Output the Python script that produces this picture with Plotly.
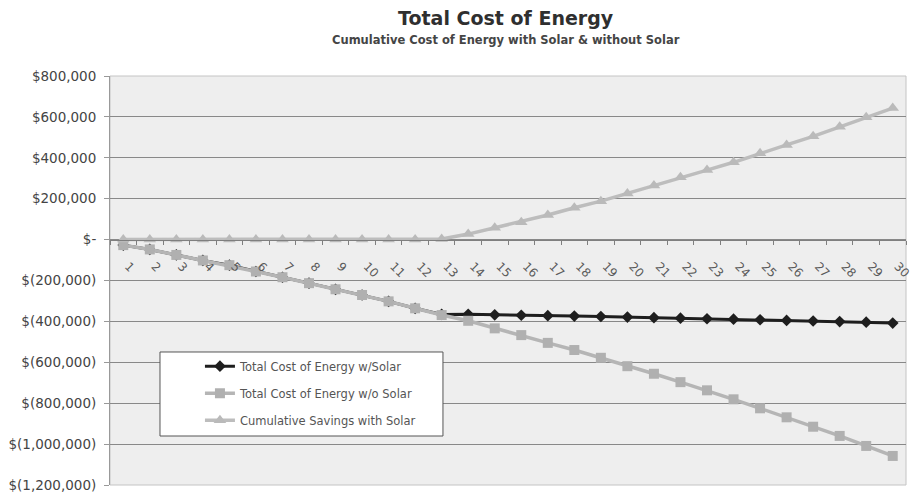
import plotly.graph_objects as go

# Year labels along the category axis
years = [str(i) for i in range(1, 31)]

# Cumulative cost of energy with solar (USD)
cost_with_solar = [
    -27000, -48000, -75000, -102000, -125000, -156000, -184000, -213000,
    -243000, -271000, -302000, -336000, -366000, -365000, -368000, -370000,
    -372000, -374000, -376000, -379000, -382000, -384000, -387000, -389000,
    -392000, -395000, -398000, -401000, -404000, -408000,
]

# Cumulative cost of energy without solar (USD)
cost_without_solar = [
    -27000, -48000, -75000, -102000, -125000, -156000, -184000, -213000,
    -243000, -271000, -302000, -336000, -369000, -397000, -434000, -467000,
    -505000, -540000, -578000, -619000, -656000, -697000, -737000, -781000,
    -825000, -869000, -915000, -960000, -1009000, -1058000,
]

# Cumulative savings with solar (USD)
cumulative_savings = [
    0, 0, 0, 0, 0, 0, 0, 0, 0, 0, 0, 0, 3000, 27000, 58000, 85000,
    120000, 156000, 188000, 226000, 265000, 305000, 340000, 378000,
    422000, 463000, 505000, 552000, 598000, 643000,
]

# Value axis ticks in accounting format
y_ticks = [800000, 600000, 400000, 200000, 0, -200000, -400000,
           -600000, -800000, -1000000, -1200000]
y_tick_labels = ["$800,000", "$600,000", "$400,000", "$200,000", "$-",
                 "$(200,000)", "$(400,000)", "$(600,000)", "$(800,000)",
                 "$(1,000,000)", "$(1,200,000)"]

series_names = ["Total Cost of Energy w/Solar",
                "Total Cost of Energy w/o Solar",
                "Cumulative Savings with Solar"]

FONT = "DejaVu Sans, Liberation Sans, Arial, sans-serif"

fig = go.Figure()

fig.add_trace(go.Scatter(
    x=years, y=cost_with_solar, name=series_names[0], legendgroup="a",
    mode="lines+markers",
    line=dict(color="#1e1e1e", width=3),
    marker=dict(symbol="diamond", size=9, color="#1e1e1e"),
))
fig.add_trace(go.Scatter(
    x=years, y=cost_without_solar, name=series_names[1], legendgroup="b",
    mode="lines+markers",
    line=dict(color="#b5b5b5", width=3.5),
    marker=dict(symbol="square", size=10, color="#b0b0b0"),
))
fig.add_trace(go.Scatter(
    x=years, y=cumulative_savings, name=series_names[2], legendgroup="c",
    mode="lines+markers",
    line=dict(color="#bdbdbd", width=3.5),
    marker=dict(symbol="triangle-up", size=11, color="#bababa"),
))

fig.update_layout(
    width=914, height=494,
    margin=dict(l=110, r=8, t=76, b=9),
    paper_bgcolor="white",
    plot_bgcolor="#eeeeee",
    font=dict(family=FONT, color="#444444"),
    showlegend=True,
    legend=dict(
        x=0.113, y=0.326, xanchor="left", yanchor="top",
        bgcolor="rgba(0,0,0,0)", borderwidth=0,
        font=dict(size=11.5, color="#555555", family=FONT),
        tracegroupgap=8, itemwidth=30,
    ),
    xaxis=dict(
        type="category", range=[-0.5, 29.5],
        anchor="free", position=0.6, automargin=False,
        showgrid=False, zeroline=False,
        showline=True, linecolor="#7f7f7f", linewidth=1,
        ticks="outside", tickson="boundaries", ticklen=4, tickcolor="#7f7f7f",
        tickangle=45, ticklabelstandoff=14, ticklabelshift=5,
        tickfont=dict(size=12, color="#5a5a5a", family=FONT),
    ),
    yaxis=dict(
        range=[-1200000, 800000], automargin=False,
        tickvals=y_ticks, ticktext=y_tick_labels,
        showgrid=True, gridcolor="#888888", gridwidth=1,
        zeroline=False,
        showline=True, linecolor="#999999", linewidth=1,
        ticks="outside", ticklen=5, tickcolor="#999999",
        ticklabelstandoff=5,
        tickfont=dict(size=13.5, color="#444444", family=FONT),
    ),
    shapes=[
        # plot area frame
        dict(type="rect", xref="paper", yref="paper", x0=0, x1=1, y0=0, y1=1,
             line=dict(color="#c4c4c4", width=1), layer="below"),
        # legend box
        dict(type="rect", xref="paper", yref="paper",
             x0=0.0628, x1=0.4183, y0=0.1198, y1=0.3252,
             fillcolor="white", line=dict(color="#555555", width=1),
             layer="above"),
    ],
    annotations=[
        dict(text="<b>Total Cost of Energy</b>", xref="paper", yref="paper",
             x=0.4975, y=1.1418, xanchor="center", yanchor="middle",
             showarrow=False, font=dict(size=19, color="#2f2f2f", family=FONT)),
        dict(text="<b>Cumulative Cost of Energy with Solar & without Solar</b>",
             xref="paper", yref="paper",
             x=0.4975, y=1.088, xanchor="center", yanchor="middle",
             showarrow=False, font=dict(size=11.5, color="#454545", family=FONT)),
    ],
)

fig.write_html("out.html")
